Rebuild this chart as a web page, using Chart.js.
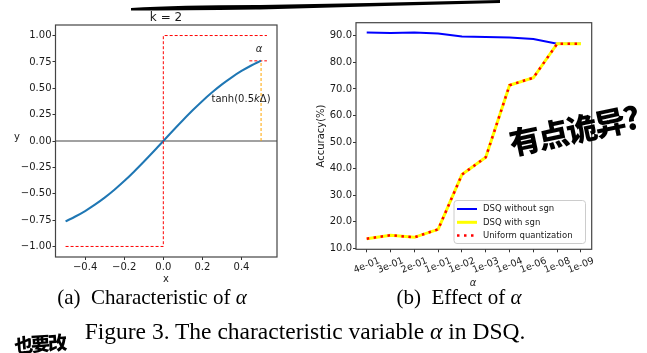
<!DOCTYPE html>
<html lang="zh">
<head>
<meta charset="UTF-8"/>
<title>DSQ alpha</title>
<script src="https://cdn.jsdelivr.net/npm/chart.js"></script>
<style>
    body { margin: 0; width: 647px; height: 353px; background: #fff; position: relative; overflow: hidden; }
    canvas { position: absolute; top: 0; }
    #chartA { left: 0; }
    #chartB { left: 300px; }
    .cap { position: absolute; transform: translate(-50%, -50%); font-family: "Liberation Serif", serif; color: #000; white-space: nowrap; }
    .cap i { font-style: italic; }
    .hand { position: absolute; font-family: "Noto Sans CJK SC", sans-serif; font-weight: 900; color: #000; white-space: nowrap; }
    svg { position: absolute; left: 0; top: 0; }
</style>
</head>
<body>
<canvas id="chartA" width="300" height="290"></canvas>
<canvas id="chartB" width="347" height="290"></canvas>

<div class="cap" style="left:152px; top:297px; font-size:21px;">(a)&nbsp; Characteristic of <i>α</i></div>
<div class="cap" style="left:459px; top:297px; font-size:21px;">(b)&nbsp; Effect of <i>α</i></div>
<div class="cap" style="left:305px; top:331px; font-size:23.5px;">Figure 3. The characteristic variable <i>α</i> in DSQ.</div>

<!-- handwritten notes -->
<svg width="647" height="353">
    <path d="M131,8 Q180,5 260,5 Q380,3 500,0 L500,3 Q380,6 260,9.5 Q180,10.5 131,10.5 Z" fill="#000"/>
</svg>
<div class="hand" style="left:508px; top:106px; font-size:31px; letter-spacing:-2px; transform:rotate(-12deg);">有点诡异?</div>
<div class="hand" style="left:14px; top:329px; font-size:19px; letter-spacing:-2px; transform:rotate(-4deg);">也要改</div>

<script>
    // ---- (a) characteristic of alpha ----
    const curveX = [-0.5, -0.45, -0.4, -0.35, -0.3, -0.25, -0.2, -0.15, -0.1, -0.05, 0,
                    0.05, 0.1, 0.15, 0.2, 0.25, 0.3, 0.35, 0.4, 0.45, 0.5];
    const curveY = [-0.762, -0.716, -0.664, -0.604, -0.537, -0.462, -0.380, -0.291, -0.197, -0.100, 0,
                    0.100, 0.197, 0.291, 0.380, 0.462, 0.537, 0.604, 0.664, 0.716, 0.762];
    const stepX = [-0.5, 0, 0, 0.53];
    const stepY = [-1, -1, 1, 1];
    const alphaX = [0.5, 0.5];
    const alphaY = [0, 0.76];
    const capX = [0.44, 0.53];
    const capY = [0.76, 0.76];
    const xTicksA = [-0.4, -0.2, 0, 0.2, 0.4];
    const yTicksA = [-1, -0.75, -0.5, -0.25, 0, 0.25, 0.5, 0.75, 1];

    // ---- (b) effect of alpha ----
    const alphaLabels = ['4e-01', '3e-01', '2e-01', '1e-01', '1e-02', '1e-03', '1e-04', '1e-06', '1e-08', '1e-09'];
    const accNoSgn   = [91.2, 91.0, 91.2, 90.8, 89.7, 89.5, 89.3, 88.8, 87.0, 87.0];
    const accSgn     = [13.7, 15.0, 14.2, 17.2, 37.8, 44.3, 71.4, 74.2, 87.0, 87.0];
    const accUniform = [13.7, 15.0, 14.2, 17.2, 37.8, 44.3, 71.4, 74.2, 87.0, 87.0];
    const yTicksB = [10, 20, 30, 40, 50, 60, 70, 80, 90];

    const FONT = '"DejaVu Sans", sans-serif';
    const INK = '#1a1a1a';

    function pts(xs, ys) {
        return xs.map((x, i) => ({ x: x, y: ys[i] }));
    }
    function fmt(v, d) {
        return v.toFixed(d).replace('-', '\u2212');
    }
    function axisOpts(ticks, fmtFn, fitFn) {
        return {
            type: 'linear',
            afterBuildTicks: s => { s.ticks = ticks.map(v => ({ value: v })); },
            afterFit: fitFn,
            ticks: { color: INK, font: { family: FONT, size: 10 }, padding: 1, callback: fmtFn, autoSkip: false, maxRotation: 0 },
            grid: { drawOnChartArea: false, drawTicks: true, tickLength: 3, color: '#333' },
            border: { display: false }
        };
    }

    // draws a run of text pieces, e.g. [['tanh(0.5', ''], ['k', 'italic '], ['Δ)', '']]
    function drawRuns(ctx, runs, x, y, size, align) {
        let total = 0;
        runs.forEach(r => { ctx.font = r[1] + size + 'px ' + FONT; total += ctx.measureText(r[0]).width; });
        let cx = align === 'center' ? x - total / 2 : x;
        ctx.textAlign = 'left';
        runs.forEach(r => {
            ctx.font = r[1] + size + 'px ' + FONT;
            ctx.fillText(r[0], cx, y);
            cx += ctx.measureText(r[0]).width;
        });
    }

    const extras = {
        id: 'extras',
        beforeDatasetsDraw(chart, args, o) {
            if (!o.zeroLine) return;
            const { ctx, chartArea: a } = chart;
            const y = chart.scales.y.getPixelForValue(0);
            ctx.save();
            ctx.strokeStyle = '#444';
            ctx.lineWidth = 1.2;
            ctx.beginPath();
            ctx.moveTo(a.left, y);
            ctx.lineTo(a.right, y);
            ctx.stroke();
            ctx.restore();
        },
        afterDraw(chart, args, o) {
            const { ctx, chartArea: a } = chart;
            ctx.save();
            ctx.strokeStyle = '#444';
            ctx.lineWidth = 1.2;
            ctx.strokeRect(a.left, a.top, a.right - a.left, a.bottom - a.top);
            ctx.fillStyle = INK;
            ctx.textBaseline = 'middle';
            (o.texts || []).forEach(t => {
                ctx.save();
                ctx.translate(t.x, t.y);
                if (t.rot) ctx.rotate(t.rot * Math.PI / 180);
                drawRuns(ctx, t.runs, 0, 0, t.size || 10, 'center');
                ctx.restore();
            });
            // rotated, centred category labels
            if (o.rotLabels) {
                const xs = chart.scales.x;
                ctx.font = '9.5px ' + FONT;
                ctx.textAlign = 'center';
                xs.ticks.forEach((t, i) => {
                    ctx.save();
                    ctx.translate(xs.getPixelForValue(t.value), o.rotLabels.y);
                    ctx.rotate(-o.rotLabels.angle * Math.PI / 180);
                    ctx.fillText(alphaLabels[i], 0, 0);
                    ctx.restore();
                });
            }
            // legend inside the axes
            if (o.legend) {
                const L = o.legend;
                ctx.fillStyle = 'rgba(255,255,255,0.8)';
                ctx.strokeStyle = '#cccccc';
                ctx.lineWidth = 1;
                ctx.beginPath();
                ctx.roundRect(L.x, L.y, L.w, L.h, 3);
                ctx.fill();
                ctx.stroke();
                chart.data.datasets.forEach((ds, i) => {
                    const yy = L.y + L.first + i * L.step;
                    ctx.strokeStyle = ds.borderColor;
                    ctx.lineWidth = ds.borderWidth;
                    ctx.setLineDash(ds.borderDash || []);
                    ctx.beginPath();
                    ctx.moveTo(L.x + 3, yy);
                    ctx.lineTo(L.x + 23, yy);
                    ctx.stroke();
                    ctx.setLineDash([]);
                    ctx.fillStyle = INK;
                    ctx.font = '8.5px ' + FONT;
                    ctx.textAlign = 'left';
                    ctx.fillText(ds.label, L.x + 29, yy);
                });
            }
            ctx.restore();
        }
    };

    const lineBase = { pointRadius: 0, fill: false, tension: 0 };

    new Chart(document.getElementById('chartA'), {
        type: 'line',
        data: {
            datasets: [
                { ...lineBase, data: pts(stepX, stepY), borderColor: '#ff0000', borderWidth: 1, borderDash: [3, 2] },
                { ...lineBase, data: pts(curveX, curveY), borderColor: '#1f77b4', borderWidth: 2, cubicInterpolationMode: 'monotone' },
                { ...lineBase, data: pts(alphaX, alphaY), borderColor: '#ffa500', borderWidth: 1, borderDash: [3, 2] },
                { ...lineBase, data: pts(capX, capY), borderColor: '#ff0000', borderWidth: 1, borderDash: [3, 2] }
            ]
        },
        options: {
            responsive: false,
            animation: false,
            devicePixelRatio: 1,
            layout: { padding: { top: 25, right: 23, left: 0, bottom: 0 } },
            plugins: {
                legend: { display: false },
                tooltip: { enabled: false },
                extras: {
                    zeroLine: true,
                    texts: [
                        { runs: [['k = 2', '']], x: 166, y: 18, size: 12 },
                        { runs: [['y', '']], x: 17, y: 137 },
                        { runs: [['x', '']], x: 166, y: 279 },
                        { runs: [['α', 'italic ']], x: 259, y: 49 },
                        { runs: [['tanh(0.5', ''], ['k', 'italic '], ['Δ)', '']], x: 241, y: 99 }
                    ]
                }
            },
            scales: {
                x: { ...axisOpts(xTicksA, v => fmt(v, 1), s => { s.height = 33; }), min: -0.5515, max: 0.5815 },
                y: { ...axisOpts(yTicksA, v => fmt(v, 2), s => { s.width = 55.5; }), min: -1.1, max: 1.1 }
            }
        },
        plugins: [extras]
    });

    const idx = alphaLabels.map((_, i) => i);

    new Chart(document.getElementById('chartB'), {
        type: 'line',
        data: {
            datasets: [
                { ...lineBase, label: 'DSQ without sgn', data: pts(idx, accNoSgn), borderColor: '#0000ff', borderWidth: 2, order: 3 },
                { ...lineBase, label: 'DSQ with sgn', data: pts(idx, accSgn), borderColor: '#ffff00', borderWidth: 3, order: 2 },
                { ...lineBase, label: 'Uniform quantization', data: pts(idx, accUniform), borderColor: '#ff0000', borderWidth: 2.5, borderDash: [2.5, 4.5], order: 1 }
            ]
        },
        options: {
            responsive: false,
            animation: false,
            devicePixelRatio: 1,
            layout: { padding: { top: 22.7, right: 55.3, left: 0, bottom: 0 } },
            plugins: {
                legend: { display: false },
                tooltip: { enabled: false },
                extras: {
                    rotLabels: { y: 265.5, angle: 22 },
                    legend: { x: 154, y: 200.5, w: 131.5, h: 43, first: 8.5, step: 13.3 },
                    texts: [
                        { runs: [['Accuracy(%)', '']], x: 21.7, y: 136, rot: -90 },
                        { runs: [['α', 'italic ']], x: 173, y: 283 }
                    ]
                }
            },
            scales: {
                x: { ...axisOpts(idx, () => '', s => { s.height = 40.7; }), min: -0.45, max: 9.45,
                     ticks: { display: false } },
                y: { ...axisOpts(yTicksB, v => v.toFixed(1), s => { s.width = 56; }), min: 9.7, max: 94.9 }
            }
        },
        plugins: [extras]
    });
</script>
</body>
</html>
